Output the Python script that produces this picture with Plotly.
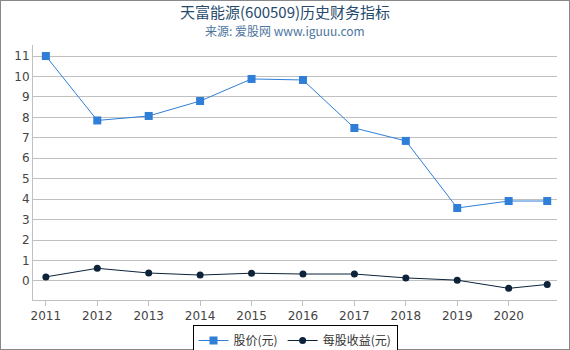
import plotly.graph_objects as go

years = [2011, 2012, 2013, 2014, 2015, 2016, 2017, 2018, 2019, 2020, 2020.75]
price = [11.0, 7.85, 8.07, 8.8, 9.88, 9.83, 7.48, 6.85, 3.57, 3.91, 3.91]
eps = [0.2, 0.62, 0.39, 0.29, 0.38, 0.34, 0.34, 0.15, 0.04, -0.36, -0.17]
tick_years = [2011, 2012, 2013, 2014, 2015, 2016, 2017, 2018, 2019, 2020]
title_text = "天富能源(600509)历史财务指标"
subtitle_text = "来源: 爱股网 www.iguuu.com"

W, H = 570, 350
ml, mr, mt, mb = 33, 13, 45, 50
pw, ph = W - ml - mr, H - mt - mb

def py(px):  # pixel y from top -> paper y
    return (H - mb - px) / ph

fig = go.Figure()
fig.add_trace(go.Scatter(x=years, y=price, mode="lines+markers", name="股价(元)",
                         line=dict(color="#2f7ed8", width=1),
                         marker=dict(symbol="square", size=8, color="#2f7ed8")))
fig.add_trace(go.Scatter(x=years, y=eps, mode="lines+markers", name="每股收益(元)",
                         line=dict(color="#0d233a", width=1),
                         marker=dict(symbol="circle", size=7, color="#0d233a")))

fig.update_layout(
    width=W, height=H,
    margin=dict(l=ml, r=mr, t=mt, b=mb, autoexpand=False),
    paper_bgcolor="white", plot_bgcolor="white",
    font=dict(family="DejaVu Sans, Noto Sans CJK SC", size=12, color="#444444"),
    showlegend=True,
    legend=dict(orientation="h", x=0.5, xanchor="center", yref="container", y=1 - 325 / H, yanchor="top",
                bordercolor="black", borderwidth=1, font=dict(size=12, color="#333333",
                family="Noto Sans CJK SC, DejaVu Sans"),
                itemwidth=30, tracegroupgap=0),
    xaxis=dict(range=[2010.75, 2020.94], tickvals=tick_years, ticktext=[str(y) for y in tick_years],
               showgrid=False, zeroline=False, showline=True, linecolor="#c0c0c0", linewidth=1,
               ticks="outside", ticklen=5, tickcolor="#c0c0c0", tickfont=dict(size=12, color="#444444")),
    yaxis=dict(range=[-0.93, 11.54], tickvals=list(range(0, 12)), showgrid=True, gridcolor="#c0c0c0",
               gridwidth=1, zeroline=False, showline=True, linecolor="#c0c0c0", linewidth=1,
               ticks="", tickfont=dict(size=12, color="#444444")),
)

fig.add_annotation(text=title_text, xref="paper", yref="paper", x=0.5 - (ml - mr) / 2 / pw, y=py(11.5),
                   xanchor="center", yanchor="middle", showarrow=False,
                   font=dict(size=15, color="#274b6d", family="Noto Sans CJK SC, DejaVu Sans"))
fig.add_annotation(text=subtitle_text, xref="paper", yref="paper", x=0.5 - (ml - mr) / 2 / pw, y=py(31),
                   xanchor="center", yanchor="middle", showarrow=False,
                   font=dict(size=12, color="#4d759e", family="Noto Sans CJK SC, DejaVu Sans"))

# outer border of the chart
fig.add_shape(type="rect", xref="paper", yref="paper",
              x0=-ml / pw, x1=(W - ml) / pw, y0=-mb / ph, y1=(H - mb) / ph,
              line=dict(color="#888888", width=2), fillcolor="rgba(0,0,0,0)", layer="above")

fig.write_html("out.html")
